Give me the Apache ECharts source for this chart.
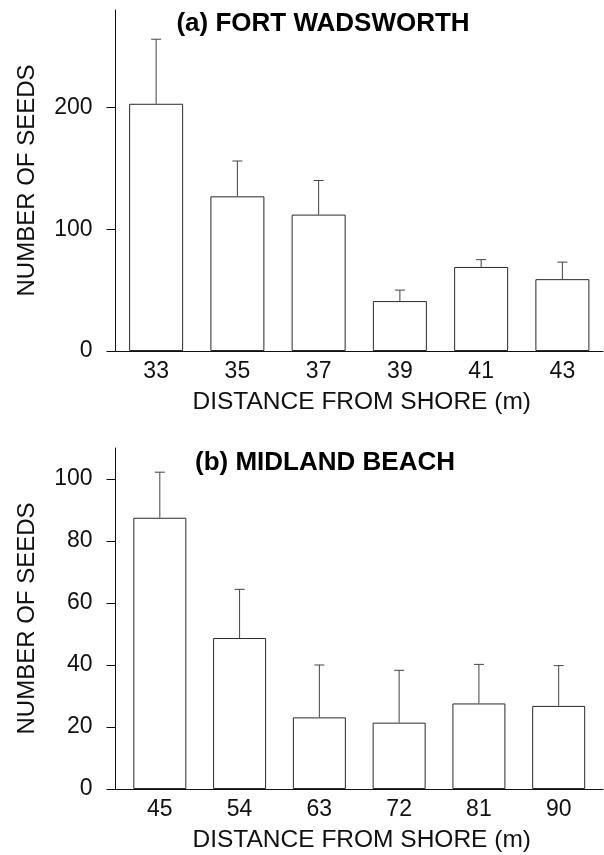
<!DOCTYPE html>
<html>
<head>
<meta charset="utf-8">
<script src="https://cdn.jsdelivr.net/npm/echarts@6/dist/echarts.min.js"></script>
<style>
  html, body { margin: 0; padding: 0; background: #fff; }
  #chart { width: 604px; height: 855px; }
</style>
</head>
<body>
<div id="chart"></div>
<script>
// (a) Fort Wadsworth
const fortDistance = [33, 35, 37, 39, 41, 43];
const fortSeeds = [203, 127, 112, 41, 69, 59];
const fortSE = [53, 29, 28, 9, 6, 14];
const fortYTicks = [0, 100, 200];

// (b) Midland Beach
const midlandDistance = [45, 54, 63, 72, 81, 90];
const midlandSeeds = [87.5, 48.7, 23.1, 21.4, 27.6, 26.8];
const midlandSE = [14.7, 15.7, 16.9, 16.9, 12.6, 13.0];
const midlandYTicks = [0, 20, 40, 60, 80, 100];

const font = "Liberation Sans";
const ink = "#111";

function xAxisFor(gridIndex, min, max, labels) {
  return {
    type: "value",
    gridIndex: gridIndex,
    min: min,
    max: max,
    name: "DISTANCE FROM SHORE (m)",
    nameLocation: "middle",
    nameGap: 39,
    nameTextStyle: { fontFamily: font, fontSize: 24.5, color: ink, padding: [0, 0, 0, 5] },
    axisLine: { lineStyle: { color: ink, width: 1 } },
    axisTick: { show: false },
    splitLine: { show: false },
    axisLabel: {
      customValues: labels,
      margin: 9,
      fontFamily: font,
      fontSize: 23,
      color: ink,
    },
  };
}

function yAxisFor(gridIndex, max, ticks) {
  return {
    type: "value",
    gridIndex: gridIndex,
    min: 0,
    max: max,
    name: "NUMBER OF SEEDS",
    nameLocation: "middle",
    nameRotate: 90,
    nameGap: 76,
    nameTextStyle: { fontFamily: font, fontSize: 24, color: ink },
    axisLine: { show: true, lineStyle: { color: ink, width: 1 } },
    axisTick: {
      show: true,
      customValues: ticks,
      length: 9,
      lineStyle: { color: ink, width: 1 },
    },
    splitLine: { show: false },
    axisLabel: {
      customValues: ticks,
      margin: 23,
      fontFamily: font,
      fontSize: 23,
      color: ink,
    },
  };
}

function errorBars(idx, xs, means, se) {
  return {
    type: "custom",
    xAxisIndex: idx,
    yAxisIndex: idx,
    z: 3,
    data: xs.map((x, i) => [x, means[i], means[i] + se[i]]),
    renderItem: function (params, api) {
      const base = api.coord([api.value(0), api.value(1)]);
      const top = api.coord([api.value(0), api.value(2)]);
      const style = { stroke: "#444", lineWidth: 1 };
      return {
        type: "group",
        children: [
          { type: "line", shape: { x1: base[0], y1: base[1], x2: top[0], y2: top[1] }, style: style },
          { type: "line", shape: { x1: top[0] - 5, y1: top[1], x2: top[0] + 5, y2: top[1] }, style: style },
        ],
      };
    },
  };
}

function barsFor(idx, xs, means, width) {
  return {
    type: "bar",
    xAxisIndex: idx,
    yAxisIndex: idx,
    barWidth: width,
    z: 2,
    itemStyle: { color: "#fff", borderColor: "#2a2a2a", borderWidth: 1 },
    data: xs.map((x, i) => [x, means[i]]),
  };
}

const chart = echarts.init(document.getElementById("chart"), null, { renderer: "canvas" });

chart.setOption({
  animation: false,
  backgroundColor: "#fff",
  title: [
    {
      text: "(a) FORT WADSWORTH",
      left: 323,
      top: 11,
      textAlign: "center",
      padding: 0,
      textStyle: { fontFamily: font, fontSize: 26, fontWeight: "bold", color: "#000" },
    },
    {
      text: "(b) MIDLAND BEACH",
      left: 325,
      top: 450,
      textAlign: "center",
      padding: 0,
      textStyle: { fontFamily: font, fontSize: 26, fontWeight: "bold", color: "#000" },
    },
  ],
  grid: [
    { left: 115.5, right: 1, top: 10, height: 341 },
    { left: 115.5, right: 1, top: 448, height: 341 },
  ],
  xAxis: [
    xAxisFor(0, 32, 44, fortDistance),
    xAxisFor(1, 40, 95, midlandDistance),
  ],
  yAxis: [
    yAxisFor(0, 280, fortYTicks),
    yAxisFor(1, 110, midlandYTicks),
  ],
  series: [
    barsFor(0, fortDistance, fortSeeds, 54),
    errorBars(0, fortDistance, fortSeeds, fortSE),
    barsFor(1, midlandDistance, midlandSeeds, 53),
    errorBars(1, midlandDistance, midlandSeeds, midlandSE),
  ],
});
</script>
</body>
</html>
